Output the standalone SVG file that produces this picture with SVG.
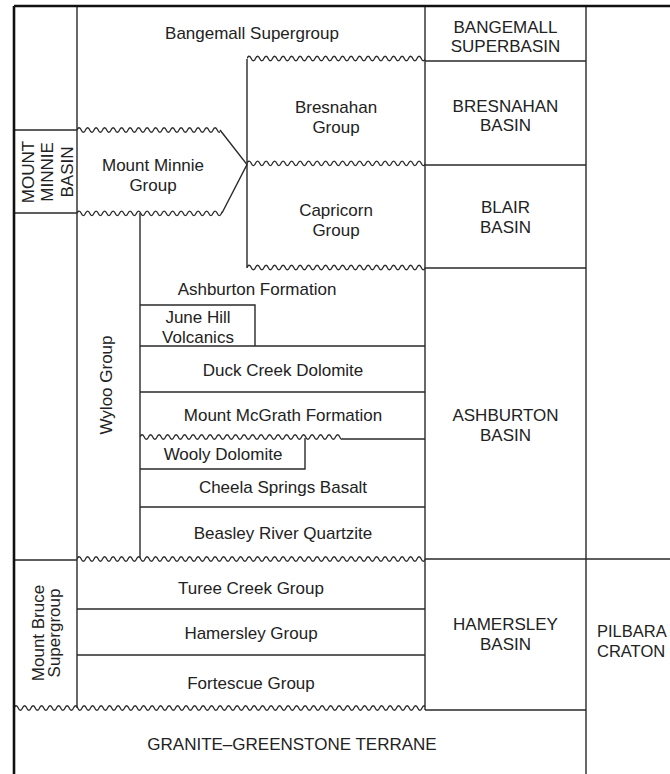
<svg xmlns="http://www.w3.org/2000/svg" width="670" height="774" viewBox="0 0 670 774">
<defs>
<style>
.ln{stroke:#2a2a2a;stroke-width:1.4;fill:none}
.fr{stroke:#111;stroke-width:2.6;fill:none}
.wv{stroke:#2a2a2a;stroke-width:1.3;fill:none}
text{font-family:"Liberation Sans",Arial,Helvetica,sans-serif;font-size:17px;fill:#222;text-anchor:middle}
.l{text-anchor:start;font-size:16.5px}
</style>
<path id="w" class="wv" d="M0,0c1.2,-3 3.05,-3 4.25,0s3.05,3 4.25,0s3.05,-3 4.25,0s3.05,3 4.25,0s3.05,-3 4.25,0s3.05,3 4.25,0s3.05,-3 4.25,0s3.05,3 4.25,0s3.05,-3 4.25,0s3.05,3 4.25,0s3.05,-3 4.25,0s3.05,3 4.25,0s3.05,-3 4.25,0s3.05,3 4.25,0s3.05,-3 4.25,0s3.05,3 4.25,0s3.05,-3 4.25,0s3.05,3 4.25,0s3.05,-3 4.25,0s3.05,3 4.25,0s3.05,-3 4.25,0s3.05,3 4.25,0s3.05,-3 4.25,0s3.05,3 4.25,0s3.05,-3 4.25,0s3.05,3 4.25,0s3.05,-3 4.25,0s3.05,3 4.25,0s3.05,-3 4.25,0s3.05,3 4.25,0s3.05,-3 4.25,0s3.05,3 4.25,0s3.05,-3 4.25,0s3.05,3 4.25,0s3.05,-3 4.25,0s3.05,3 4.25,0s3.05,-3 4.25,0s3.05,3 4.25,0s3.05,-3 4.25,0s3.05,3 4.25,0s3.05,-3 4.25,0s3.05,3 4.25,0s3.05,-3 4.25,0s3.05,3 4.25,0s3.05,-3 4.25,0s3.05,3 4.25,0s3.05,-3 4.25,0s3.05,3 4.25,0s3.05,-3 4.25,0s3.05,3 4.25,0s3.05,-3 4.25,0s3.05,3 4.25,0s3.05,-3 4.25,0s3.05,3 4.25,0s3.05,-3 4.25,0s3.05,3 4.25,0s3.05,-3 4.25,0s3.05,3 4.25,0s3.05,-3 4.25,0s3.05,3 4.25,0s3.05,-3 4.25,0s3.05,3 4.25,0s3.05,-3 4.25,0s3.05,3 4.25,0s3.05,-3 4.25,0s3.05,3 4.25,0s3.05,-3 4.25,0s3.05,3 4.25,0s3.05,-3 4.25,0s3.05,3 4.25,0s3.05,-3 4.25,0s3.05,3 4.25,0s3.05,-3 4.25,0s3.05,3 4.25,0s3.05,-3 4.25,0s3.05,3 4.25,0s3.05,-3 4.25,0s3.05,3 4.25,0s3.05,-3 4.25,0s3.05,3 4.25,0s3.05,-3 4.25,0s3.05,3 4.25,0s3.05,-3 4.25,0s3.05,3 4.25,0s3.05,-3 4.25,0s3.05,3 4.25,0s3.05,-3 4.25,0s3.05,3 4.25,0s3.05,-3 4.25,0s3.05,3 4.25,0s3.05,-3 4.25,0s3.05,3 4.25,0s3.05,-3 4.25,0s3.05,3 4.25,0s3.05,-3 4.25,0s3.05,3 4.25,0s3.05,-3 4.25,0s3.05,3 4.25,0s3.05,-3 4.25,0s3.05,3 4.25,0s3.05,-3 4.25,0s3.05,3 4.25,0s3.05,-3 4.25,0s3.05,3 4.25,0s3.05,-3 4.25,0s3.05,3 4.25,0s3.05,-3 4.25,0s3.05,3 4.25,0s3.05,-3 4.25,0s3.05,3 4.25,0s3.05,-3 4.25,0s3.05,3 4.25,0s3.05,-3 4.25,0s3.05,3 4.25,0"/>
</defs>
<rect width="670" height="774" fill="#fff"/>

<g id="connectors">
<path class="ln" d="M77,6V708M140,213V558M247,59V268M425,6V710M586,6V774"/>
<path class="ln" d="M14,130H77M14,213H77M14,560H77"/>
<path class="ln" d="M425,61H586M425,165H586M425,268H586M425,559H670M425,710H586"/>
<path class="ln" d="M140,305H255V346M140,346H425M140,392H425M343,439H425M305,438V469H140M140,507H425M77,609H425M77,655H425"/>
<path class="ln" d="M220,130L247,164.5L222,213"/>
<svg x="247" y="50" width="178" height="16" overflow="hidden"><use href="#w" y="8.5"/></svg>
<svg x="247" y="155" width="178" height="16" overflow="hidden"><use href="#w" y="8.3"/></svg>
<svg x="247" y="259" width="178" height="16" overflow="hidden"><use href="#w" y="8.5"/></svg>
<svg x="77" y="122" width="143" height="16" overflow="hidden"><use href="#w" y="8"/></svg>
<svg x="77" y="205" width="145" height="16" overflow="hidden"><use href="#w" y="8.3"/></svg>
<svg x="140" y="429" width="203" height="16" overflow="hidden"><use href="#w" y="8"/></svg>
<svg x="77" y="551" width="348" height="16" overflow="hidden"><use href="#w" y="8"/></svg>
<svg x="14" y="700" width="411" height="16" overflow="hidden"><use href="#w" y="8"/></svg>
<path class="fr" d="M14,6H670M14,6V774"/>
</g>

<g id="bangemall-supergroup"><text x="252" y="39">Bangemall Supergroup</text></g>
<g id="bangemall-superbasin"><text x="505.5" y="33">BANGEMALL</text><text x="505.5" y="52">SUPERBASIN</text></g>
<g id="bresnahan-group"><text x="336" y="113">Bresnahan</text><text x="336" y="133">Group</text></g>
<g id="bresnahan-basin"><text x="505.5" y="112">BRESNAHAN</text><text x="505.5" y="131">BASIN</text></g>
<g id="mount-minnie-group"><text x="153" y="171">Mount Minnie</text><text x="153" y="191">Group</text></g>
<g id="mount-minnie-basin">
<text transform="translate(33.5,172) rotate(-90)">MOUNT</text>
<text transform="translate(53,172) rotate(-90)">MINNIE</text>
<text transform="translate(72.5,172) rotate(-90)">BASIN</text>
</g>
<g id="capricorn-group"><text x="336" y="216">Capricorn</text><text x="336" y="236">Group</text></g>
<g id="blair-basin"><text x="505.5" y="213">BLAIR</text><text x="505.5" y="233">BASIN</text></g>
<g id="wyloo-group"><text transform="translate(112,385) rotate(-90)">Wyloo Group</text></g>
<g id="ashburton-formation"><text x="257" y="295">Ashburton Formation</text></g>
<g id="june-hill-volcanics"><text x="198" y="323">June Hill</text><text x="198" y="343">Volcanics</text></g>
<g id="duck-creek-dolomite"><text x="283" y="376">Duck Creek Dolomite</text></g>
<g id="mount-mcgrath-formation"><text x="283" y="421">Mount McGrath Formation</text></g>
<g id="ashburton-basin"><text x="505.5" y="421">ASHBURTON</text><text x="505.5" y="441">BASIN</text></g>
<g id="wooly-dolomite"><text x="223" y="460">Wooly Dolomite</text></g>
<g id="cheela-springs-basalt"><text x="283" y="493">Cheela Springs Basalt</text></g>
<g id="beasley-river-quartzite"><text x="283" y="539">Beasley River Quartzite</text></g>
<g id="mount-bruce-supergroup">
<text transform="translate(43.5,633) rotate(-90)">Mount Bruce</text>
<text transform="translate(60,633) rotate(-90)">Supergroup</text>
</g>
<g id="turee-creek-group"><text x="251" y="594">Turee Creek Group</text></g>
<g id="hamersley-group"><text x="251" y="639">Hamersley Group</text></g>
<g id="fortescue-group"><text x="251" y="689">Fortescue Group</text></g>
<g id="hamersley-basin"><text x="505.5" y="630">HAMERSLEY</text><text x="505.5" y="650">BASIN</text></g>
<g id="pilbara-craton"><text class="l" x="597" y="637">PILBARA</text><text class="l" x="597" y="657">CRATON</text></g>
<g id="granite-greenstone-terrane"><text x="292" y="750">GRANITE–GREENSTONE TERRANE</text></g>
</svg>
